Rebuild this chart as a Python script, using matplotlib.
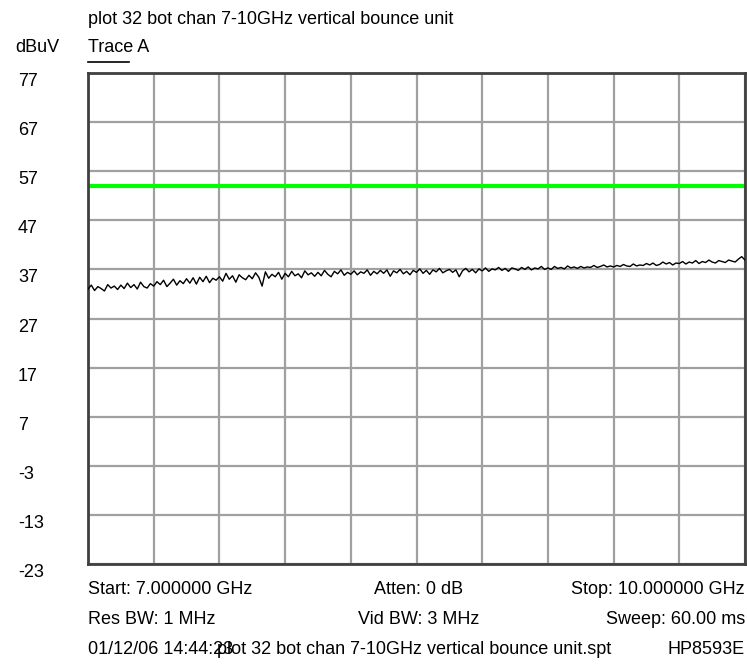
import matplotlib
matplotlib.use("Agg")
import matplotlib.pyplot as plt
import matplotlib.transforms as mtransforms
import numpy as np

plt.rcParams['font.family'] = ['Liberation Sans', 'DejaVu Sans']

# ---- data ----
freq_start_ghz = 7.0
freq_stop_ghz = 10.0
y_ticks = [77, 67, 57, 47, 37, 27, 17, 7, -3, -13, -23]
limit_level = 54.0
trace_values = [
    33.0, 33.8, 32.7, 33.5, 33.1, 32.6, 33.9, 33.2, 33.6, 32.9,
    33.8, 33.1, 34.2, 33.3, 33.9, 33.0, 34.4, 33.5, 33.2, 34.1,
    33.6, 34.5, 33.9, 34.8, 33.5, 34.2, 35.0, 33.8, 34.7, 34.1,
    35.1, 34.2, 35.3, 34.0, 35.4, 34.5, 35.6, 34.3, 35.2, 34.8,
    35.5, 34.6, 36.2, 35.0, 35.7, 34.4, 35.9, 35.3, 34.9, 35.8,
    35.1, 36.3, 35.4, 33.6, 36.5, 35.2, 36.0, 35.5, 36.4, 35.0,
    36.2, 35.5, 36.6, 35.7, 36.1, 35.3, 36.7, 35.9, 36.3, 35.6,
    36.4, 35.7, 36.8, 36.0, 35.5, 36.6, 36.1, 36.9, 35.8, 36.4,
    36.0, 36.7, 35.9, 36.5, 36.2, 36.9, 35.8, 36.6, 36.1, 36.8,
    36.2, 36.9, 35.6, 36.7, 36.3, 37.0, 36.1, 36.6, 35.9, 36.8,
    36.4, 37.1, 36.2, 36.8, 36.0, 36.9, 36.5, 37.2, 36.3, 36.7,
    37.0, 36.4, 36.9, 35.5, 36.7, 37.2, 36.5, 37.0, 36.3, 37.1,
    36.7, 37.3, 36.6, 37.1, 36.9, 37.4, 36.8, 37.2, 36.6, 37.3,
    37.1, 36.8, 37.4, 37.0, 37.5, 36.9, 37.3, 37.1, 37.6, 37.0,
    37.3, 37.0, 37.6, 37.2, 37.4, 37.1, 37.7, 37.3, 37.5, 37.2,
    37.6, 37.3, 37.5, 37.4, 37.8, 37.4, 37.6, 37.9, 37.5, 37.7,
    37.5, 37.8, 37.6, 38.0, 37.7, 37.6, 38.1, 37.7, 37.9, 37.8,
    38.2, 37.9, 38.3, 37.8, 38.0, 38.5, 38.1, 38.4, 37.9, 38.3,
    38.2, 38.6, 38.1, 38.5, 38.3, 38.8, 38.2, 38.6, 38.4, 38.9,
    38.5, 38.3, 38.8, 38.6, 38.4, 38.9, 38.7, 38.5, 39.1, 39.6,
    38.9,
]
title_text = "plot 32 bot chan 7-10GHz vertical bounce unit"
unit_text = "dBuV"
trace_label = "Trace A"
info_rows = [
    ("Start: 7.000000 GHz", "Atten: 0 dB", "Stop: 10.000000 GHz"),
    ("Res BW: 1 MHz", "Vid BW: 3 MHz", "Sweep: 60.00 ms"),
]
footer_left = "01/12/06 14:44:23"
footer_mid = "plot 32 bot chan 7-10GHz vertical bounce unit.spt"
footer_right = "HP8593E"

# ---- figure ----
W, H = 747, 665
fig = plt.figure(figsize=(W / 100, H / 100), dpi=100)
fig.patch.set_facecolor('white')

def fx(px):
    return px / W

def fy(py):
    return 1 - py / H

L, R, T, B = 88, 745, 73, 564
ax = fig.add_axes([fx(L), fy(B), fx(R) - fx(L), fy(T) - fy(B)])

freqs = np.linspace(freq_start_ghz, freq_stop_ghz, len(trace_values))
ax.plot(freqs, trace_values, color='black', lw=1.0, zorder=3)
ax.axhline(limit_level, color='#00ff00', lw=3, zorder=2)

ax.set_xlim(freq_start_ghz, freq_stop_ghz)
ax.set_ylim(min(y_ticks), max(y_ticks))
ax.set_xticks(np.linspace(freq_start_ghz, freq_stop_ghz, 11))
ax.set_yticks(y_ticks)
ax.grid(True, color='#a0a0a0', lw=1.6)
ax.tick_params(length=0, labelbottom=False, labelleft=False)
for s in ax.spines.values():
    s.set_color('#404040')
    s.set_linewidth(2)

fs = 13
trans = mtransforms.blended_transform_factory(fig.transFigure, ax.transData)
for v in y_ticks:
    ax.text(fx(18), v, str(v), transform=trans, ha='left', va='top',
            fontsize=fs, color='black')

fig.text(fx(88), fy(20), title_text, ha='left', va='center', fontsize=fs)
fig.text(fx(15), fy(47), unit_text, ha='left', va='center', fontsize=fs)
fig.text(fx(88), fy(47), trace_label, ha='left', va='center', fontsize=fs)
fig.add_artist(plt.Line2D([fx(88), fx(129)], [fy(62), fy(62)], color='black', lw=1.2))

row_y = [590, 620]
for (a, b, c), yy in zip(info_rows, row_y):
    fig.text(fx(88), fy(yy), a, ha='left', va='center', fontsize=fs)
    fig.text(fx(419), fy(yy), b, ha='center', va='center', fontsize=fs)
    fig.text(fx(745), fy(yy), c, ha='right', va='center', fontsize=fs)
fig.text(fx(88), fy(650), footer_left, ha='left', va='center', fontsize=fs)
fig.text(fx(217), fy(650), footer_mid, ha='left', va='center', fontsize=fs)
fig.text(fx(745), fy(650), footer_right, ha='right', va='center', fontsize=fs)

fig.savefig('out.png', dpi=100, facecolor='white')
